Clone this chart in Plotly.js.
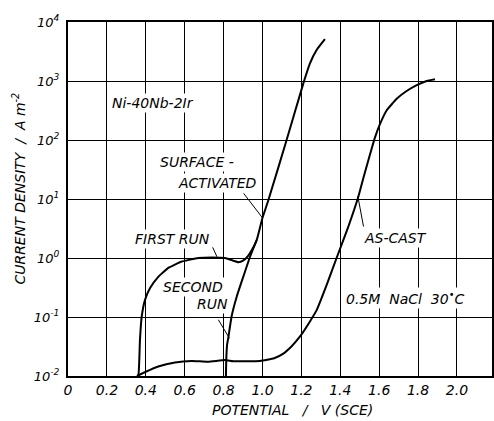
<!DOCTYPE html>
<html>
<head>
<meta charset="utf-8">
<script src="https://cdn.plot.ly/plotly-3.0.1.min.js"></script>
<style>html,body{margin:0;padding:0;background:#fff;}#chart{width:494px;height:421px;}</style>
</head>
<body>
<div id="chart"></div>
<script>
// Potential (V vs SCE) and current density (A m^-2)
const firstRunX = [0.355, 0.362, 0.370, 0.379, 0.396, 0.422, 0.464, 0.516, 0.585, 0.670, 0.739, 0.807, 0.850, 0.876, 0.900, 0.925, 0.946, 0.970, 1.000, 1.030, 1.124, 1.210, 1.244, 1.279, 1.321];
const firstRunY = [0.010, 0.0105, 0.041, 0.102, 0.195, 0.310, 0.480, 0.680, 0.870, 1.000, 1.020, 1.000, 0.900, 0.850, 0.900, 1.080, 1.380, 2.000, 4.800, 9.500, 100, 912, 1995, 3390, 5130];
const secondRunX = [0.812, 0.814, 0.818, 0.824, 0.841, 0.867, 0.901, 0.936, 0.970];
const secondRunY = [0.010, 0.020, 0.034, 0.044, 0.102, 0.219, 0.479, 1.050, 2.000];
const asCastX = [0.361, 0.400, 0.464, 0.550, 0.636, 0.720, 0.807, 0.850, 0.987, 1.060, 1.107, 1.150, 1.193, 1.240, 1.279, 1.330, 1.381, 1.440, 1.493, 1.519, 1.553, 1.578, 1.604, 1.638, 1.690, 1.741, 1.793, 1.844, 1.887];
const asCastY = [0.0102, 0.0118, 0.0145, 0.0170, 0.0180, 0.0174, 0.0186, 0.0178, 0.0180, 0.0200, 0.0240, 0.0320, 0.0468, 0.0800, 0.1320, 0.3500, 1.000, 3.300, 11.0, 23.0, 57.5, 110, 186, 316, 500, 676, 851, 1000, 1070];

const xTickVals = [0, 0.2, 0.4, 0.6, 0.8, 1.0, 1.2, 1.4, 1.6, 1.8, 2.0];
const xTickText = ["0", "0.2", "0.4", "0.6", "0.8", "1.0", "1.2", "1.4", "1.6", "1.8", "2.0"];
const yTickVals = [0.01, 0.1, 1, 10, 100, 1000, 10000];
const yTickText = ["10<sup>-2</sup>", "10<sup>-1</sup>", "10<sup>0</sup>", "10<sup>1</sup>", "10<sup>2</sup>", "10<sup>3</sup>", "10<sup>4</sup>"];

const lineStyle = {color: '#000', width: 2, shape: 'spline', smoothing: 0.4};
const traces = [
  {x: firstRunX, y: firstRunY, mode: 'lines', line: lineStyle, name: 'First run'},
  {x: secondRunX, y: secondRunY, mode: 'lines', line: lineStyle, name: 'Second run'},
  {x: asCastX, y: asCastY, mode: 'lines', line: lineStyle, name: 'As-cast'}
];

const fnt = {family: 'DejaVu Sans, sans-serif', size: 14, color: '#000', style: 'italic'};
function lab(text, x, ly, extra) {
  return Object.assign({text: text, x: x, y: ly, xref: 'x', yref: 'y', showarrow: false,
    font: fnt, bgcolor: '#fff', borderpad: 1}, extra || {});
}
function arrow(x, ly, ax, ay) {
  return {x: x, y: ly, xref: 'x', yref: 'y', ax: ax, ay: ay, showarrow: true, arrowhead: 0,
    arrowwidth: 1, arrowcolor: '#000', text: ''};
}
const annotations = [
  lab('Ni-40Nb-2Ir', 0.437, 2.63),
  lab('SURFACE -', 0.665, 1.63),
  lab('ACTIVATED', 0.77, 1.27),
  lab('FIRST RUN', 0.536, 0.32),
  lab('SECOND', 0.644, -0.49),
  lab('RUN', 0.741, -0.78),
  lab('AS-CAST', 1.686, 0.34),
  lab('0.5M  NaCl  30<sup>•</sup>C', 1.733, -0.68),
  arrow(1.0, 0.68, -20, -26),
  arrow(0.766, 0.02, -5, -11),
  arrow(0.83, -1.36, -12, -20),
  arrow(1.49, 1.05, 6, 32),
  {text: 'POTENTIAL   /   V (SCE)', xref: 'paper', yref: 'paper', x: 0.53, y: -0.095, yanchor: 'middle', showarrow: false, font: Object.assign({}, fnt, {size: 14})},
  {text: 'CURRENT DENSITY  /  A m<sup>-2</sup>', xref: 'paper', yref: 'paper', x: -0.115, y: 0.53, xanchor: 'center', textangle: -90, showarrow: false, font: Object.assign({}, fnt, {size: 14})}
];

const layout = {
  width: 494, height: 421,
  margin: {l: 68, r: 2, t: 22, b: 45},
  paper_bgcolor: '#fff', plot_bgcolor: '#fff',
  showlegend: false,
  font: fnt,
  xaxis: {range: [0, 2.18], tickvals: xTickVals, ticktext: xTickText, showgrid: true, gridcolor: '#000', gridwidth: 1,
          zeroline: false, showline: true, linecolor: '#000', linewidth: 2, mirror: true, ticks: '',
          tickfont: Object.assign({}, fnt, {size: 14})},
  yaxis: {type: 'log', range: [-2, 4], tickvals: yTickVals, ticktext: yTickText, showgrid: true, gridcolor: '#000', gridwidth: 1,
          zeroline: false, showline: true, linecolor: '#000', linewidth: 2, mirror: true, ticks: '', ticklabelstandoff: 4,
          tickfont: Object.assign({}, fnt, {size: 13})},
  annotations: annotations
};

Plotly.newPlot('chart', traces, layout, {displayModeBar: false, staticPlot: true});
</script>
</body>
</html>
